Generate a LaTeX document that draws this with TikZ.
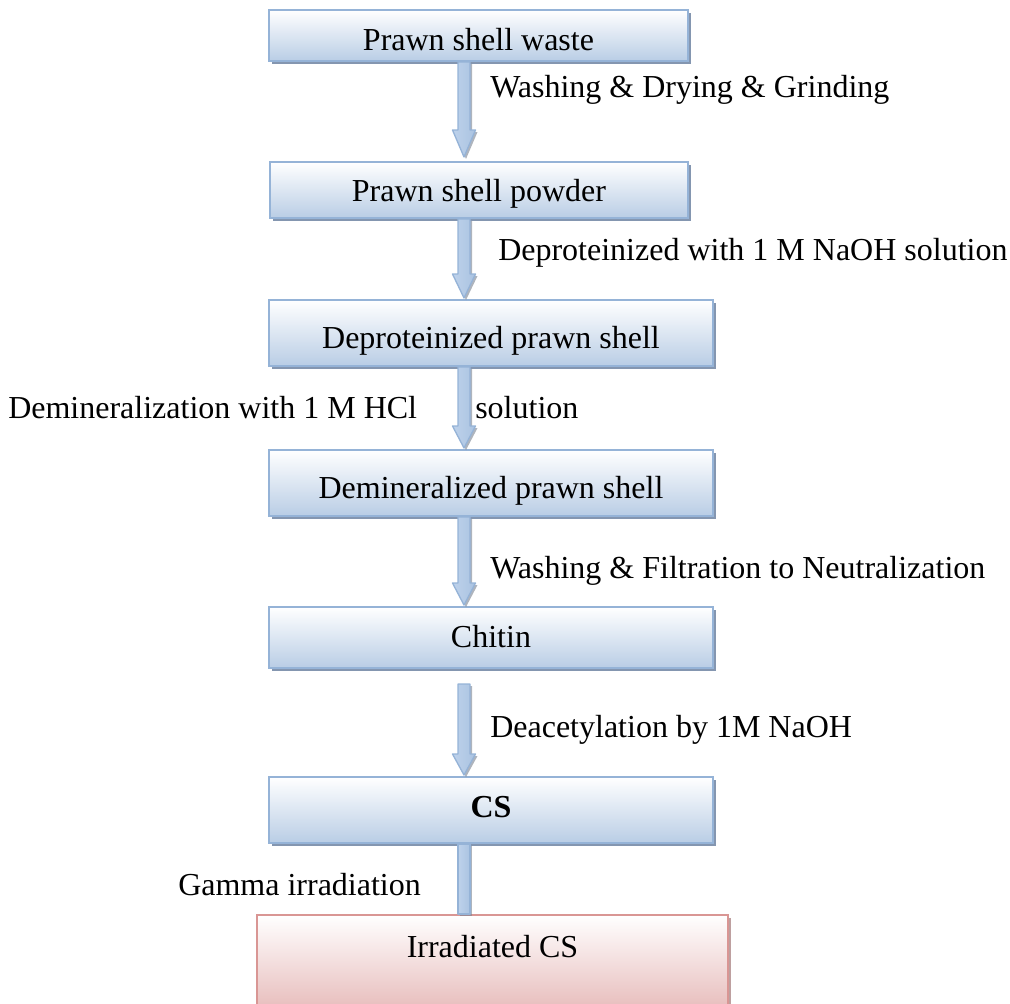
\documentclass[tikz,border=0pt]{standalone}
\usepackage{fontspec}
\setmainfont{Liberation Serif}
\usetikzlibrary{calc,shadows}
\definecolor{bxline}{RGB}{149,179,215}
\definecolor{bxbot}{RGB}{185,205,229}
\definecolor{bxshadow}{RGB}{132,150,176}
\definecolor{rdline}{RGB}{217,150,148}
\definecolor{rdbot}{RGB}{230,185,184}
\definecolor{rdshadow}{RGB}{190,160,160}
\definecolor{arrl}{RGB}{190,210,235}
\definecolor{arrr}{RGB}{170,195,225}
\definecolor{arrshadow}{RGB}{120,130,145}
\tikzset{
  flowbox/.style={rectangle, draw=bxline, line width=1.5pt, top color=white, bottom color=bxbot,
    inner sep=0pt, drop shadow={shadow xshift=2.25pt, shadow yshift=-2.25pt, fill=bxshadow, opacity=1}},
  redbox/.style={rectangle, draw=rdline, line width=1.5pt, top color=white, bottom color=rdbot,
    inner sep=0pt, drop shadow={shadow xshift=2.25pt, shadow yshift=-2.25pt, fill=rdshadow, opacity=1}},
  boxtext/.style={anchor=base, inner sep=0pt, font=\fontsize{24}{28}\selectfont},
  steplabel/.style={anchor=base west, inner sep=0pt, font=\fontsize{24}{28}\selectfont},
  flowarrow/.style={draw=bxline, line width=1pt, line join=round, left color=arrl, middle color=white, right color=arrr,
    drop shadow={shadow xshift=1.5pt, shadow yshift=-1.5pt, fill=arrshadow, opacity=0.6}}
}
\newcommand\flowarrowdraw[3]{%
  \path[flowarrow] ($(#1)+(-6,0)$) -- ($(#2)+(-6,-#3)$) -- ($(#2)+(-11.5,-#3)$) -- (#2)
    -- ($(#2)+(11.5,-#3)$) -- ($(#2)+(6,-#3)$) -- ($(#1)+(6,0)$) -- cycle;%
}
\begin{document}
\begin{tikzpicture}[x=0.75pt, y=-0.75pt]
\useasboundingbox (0,0) rectangle (1010,1003);
\coordinate (ax) at (464,0);

% boxes
\node[flowbox, minimum width=314.25pt, minimum height=38.25pt] (b1) at (478.5,35.5) {};
\node[flowbox, minimum width=313.5pt, minimum height=42pt] (b2) at (479,190) {};
\node[flowbox, minimum width=333pt, minimum height=49.5pt] (b3) at (491,333) {};
\node[flowbox, minimum width=333pt, minimum height=49.5pt] (b4) at (491,483) {};
\node[flowbox, minimum width=333pt, minimum height=45.75pt] (b5) at (491,637.5) {};
\node[flowbox, minimum width=333pt, minimum height=49.5pt] (b6) at (491,810) {};
\node[redbox, minimum width=353.25pt, minimum height=75pt] (b7) at (492.5,965) {};

% box texts
\node[boxtext] (t1) at (478.5,50) {Prawn shell waste};
\node[boxtext] (t2) at (479,201) {Prawn shell powder};
\node[boxtext] (t3) at (491,348) {Deproteinized prawn shell};
\node[boxtext] (t4) at (491,498) {Demineralized prawn shell};
\node[boxtext] (t5) at (491,647) {Chitin};
\node[boxtext] (t6) at (491,817) {\textbf{CS}};
\node[boxtext] (t7) at (492.5,957) {Irradiated CS};

% arrows
\coordinate (a1s) at (b1.south -| ax);
\coordinate (a1e) at ($(b2.north -| ax)+(0,-4)$);
\coordinate (a2s) at (b2.south -| ax);
\coordinate (a2e) at ($(b3.north -| ax)+(0,-1)$);
\coordinate (a3s) at (b3.south -| ax);
\coordinate (a3e) at ($(b4.north -| ax)+(0,-1)$);
\coordinate (a4s) at (b4.south -| ax);
\coordinate (a4e) at ($(b5.north -| ax)+(0,-1)$);
\coordinate (a5s) at ($(b5.south -| ax)+(0,15)$);
\coordinate (a5e) at ($(b6.north -| ax)+(0,-1)$);
\flowarrowdraw{a1s}{a1e}{27}
\flowarrowdraw{a2s}{a2e}{24}
\flowarrowdraw{a3s}{a3e}{22}
\flowarrowdraw{a4s}{a4e}{22}
\flowarrowdraw{a5s}{a5e}{21}
\path[flowarrow] ($(b6.south -| ax)+(-6,0)$) rectangle ($(b7.north -| ax)+(6,0)$);

% step labels
\node[steplabel] (l1) at (490,97) {Washing \& Drying \& Grinding};
\node[steplabel] (l2) at (498,260) {Deproteinized with 1 M NaOH solution};
\node[steplabel] (l3a) at (8,418) {Demineralization with 1 M HCl};
\node[steplabel] (l3b) at (475,418) {solution};
\node[steplabel] (l4) at (490,578) {Washing \& Filtration to Neutralization};
\node[steplabel] (l5) at (490,737) {Deacetylation by 1M NaOH};
\node[steplabel] (l6) at (178,895) {Gamma irradiation};
\end{tikzpicture}
\end{document}
